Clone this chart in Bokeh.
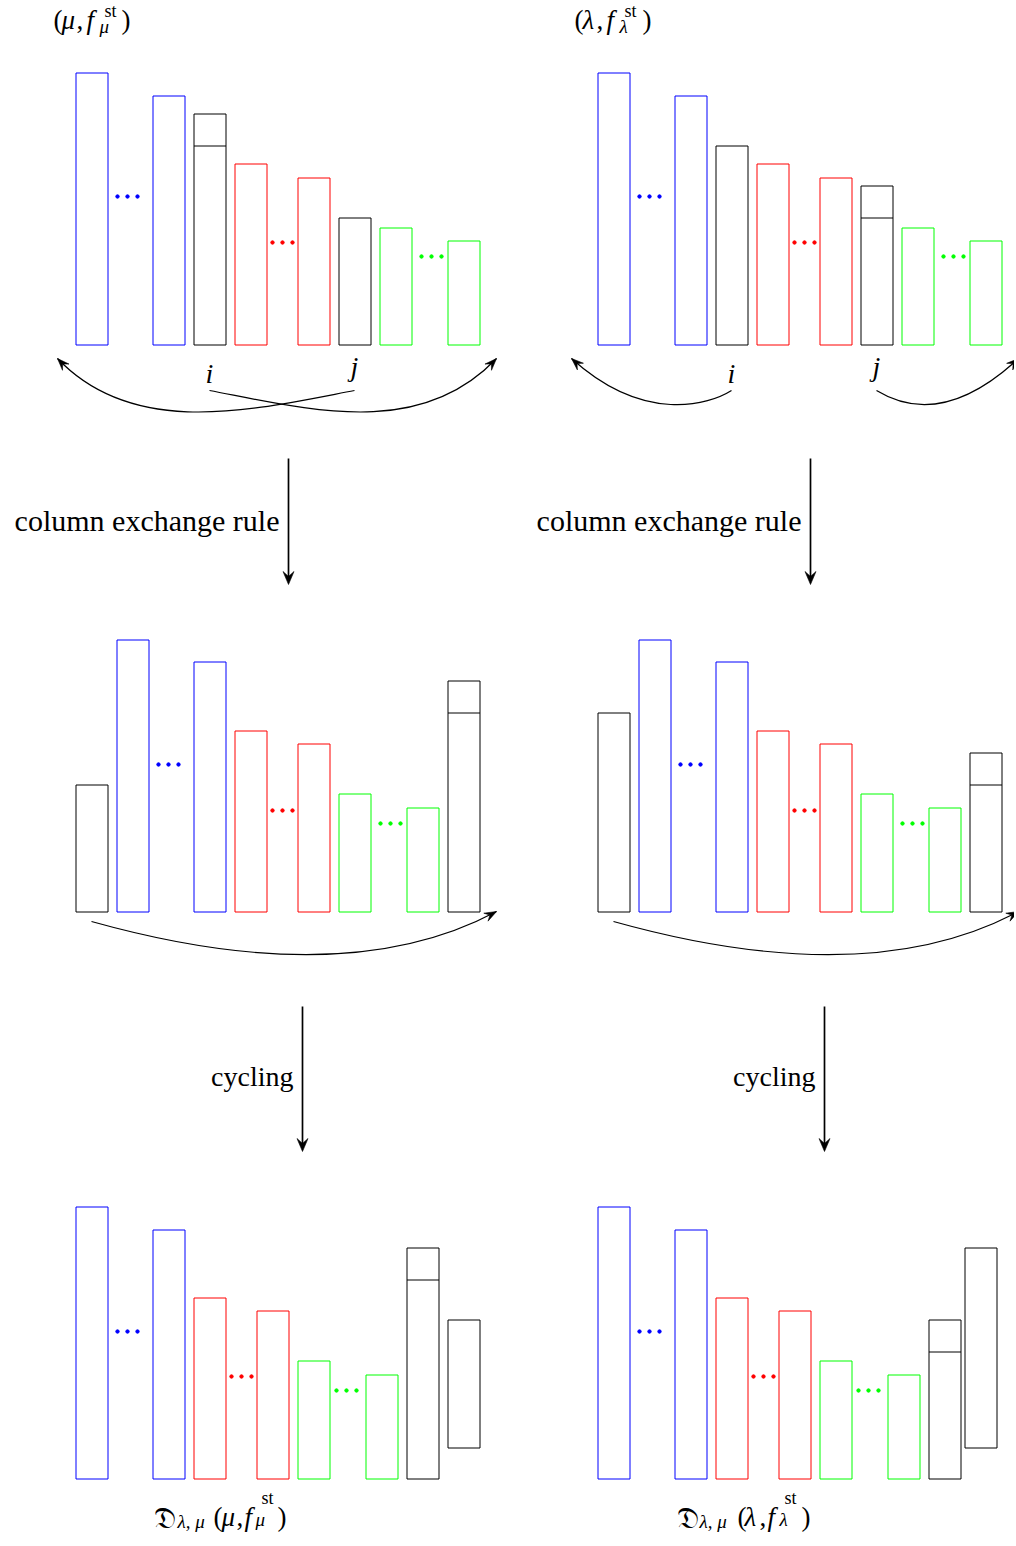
from bokeh.plotting import figure
from bokeh.models import Range1d, ColumnDataSource
from bokeh.core.properties import value
from bokeh.embed import file_html
from bokeh.resources import INLINE

COL = {"b": "#0000ff", "r": "#ff0000", "g": "#00ff00", "k": "#000000"}
BAR_W = 32

# ---- bars: left edge, top, bottom, colour (per panel) ----
p1_left = [76, 153, 194, 235, 298, 339, 380, 448]
p1_top = [73, 96, 114, 164, 178, 218, 228, 241]
p1_bot = [345] * 8
p1_col = list("bbkrrkgg")

p2_left = [598, 675, 716, 757, 820, 861, 902, 970]
p2_top = [73, 96, 146, 164, 178, 186, 228, 241]
p2_bot = [345] * 8
p2_col = list("bbkrrkgg")

p3_left = [76, 117, 194, 235, 298, 339, 407, 448]
p3_top = [785, 640, 662, 731, 744, 794, 808, 681]
p3_bot = [912] * 8
p3_col = list("kbbrrggk")

p4_left = [598, 639, 716, 757, 820, 861, 929, 970]
p4_top = [713, 640, 662, 731, 744, 794, 808, 753]
p4_bot = [912] * 8
p4_col = list("kbbrrggk")

p5_left = [76, 153, 194, 257, 298, 366, 407, 448]
p5_top = [1207, 1230, 1298, 1311, 1361, 1375, 1248, 1320]
p5_bot = [1479] * 7 + [1448]
p5_col = list("bbrrggkk")

p6_left = [598, 675, 716, 779, 820, 888, 929, 965]
p6_top = [1207, 1230, 1298, 1311, 1361, 1375, 1320, 1248]
p6_bot = [1479] * 7 + [1448]
p6_col = list("bbrrggkk")

# inner split lines of the black columns: left, y
split_left = [194, 861, 448, 970, 407, 929]
split_y = [146, 218, 713, 785, 1280, 1352]

# ---- ellipsis dots: centre x, y, colour ----
dots_x = [128, 283, 432, 650, 805, 954,
          169, 283, 391, 691, 805, 913,
          128, 242, 347, 650, 764, 869]
dots_y = [197, 243, 257, 197, 243, 257,
          765, 811, 824, 765, 811, 824,
          1332, 1377, 1391, 1332, 1377, 1391]
dots_c = list("brg" * 6)
DOT_GAP = 10

# ---- curved arrows (cubic Bezier): start, control 1, control 2, end ----
cv_x0 = [210, 355, 732, 877, 92, 614]
cv_y0 = [391, 391, 391, 391, 922, 922]
cv_cx0 = [310, 255, 710, 900, 210, 732]
cv_cy0 = [410, 410, 405, 405, 955, 955]
cv_cx1 = [420, 135, 645, 948, 370, 892]
cv_cy1 = [440, 440, 425, 425, 980, 980]
cv_x1 = [497, 58, 572, 1019, 497, 1019]
cv_y1 = [359, 359, 359, 359, 912, 912]

# ---- vertical arrows ----
va_x = [289, 811, 303, 825]
va_y0 = [459, 459, 1007, 1007]
va_y1 = [585, 585, 1152, 1152]
va_label = ["column exchange rule", "column exchange rule", "cycling", "cycling"]
va_label_y = [521, 521, 1077, 1077]
va_label_size = ["30px", "30px", "28px", "28px"]

# ---- arrow labels i, j ----
ij_text = ["i", "j", "i", "j"]
ij_x = [210, 355, 732, 877]
ij_y = [374, 367, 374, 367]

# ---- formula pieces: text, x (left), baseline y, size, style ----
m_text = ["(", "μ", ",", "f", "st", "μ", ")",
          "(", "λ", ",", "f", "st", "λ", ")",
          "𝔇", "λ, μ", "(", "μ", ",", "f", "st", "μ", ")",
          "𝔇", "λ, μ", "(", "λ", ",", "f", "st", "λ", ")"]
m_x = [54, 62, 77, 87, 105, 100, 122,
       575, 583, 597, 607, 625, 620, 643,
       154, 178, 214, 222, 237, 245, 262, 256, 278,
       677, 700, 738, 745, 760, 768, 785, 780, 802]
m_y = [20, 20, 20, 20, 11, 27, 20,
       20, 20, 20, 20, 11, 27, 20,
       1518, 1522, 1517, 1517, 1517, 1517, 1498, 1520, 1517,
       1518, 1522, 1517, 1517, 1517, 1517, 1498, 1520, 1517]
m_size = ["27px", "27px", "27px", "27px", "18px", "19px", "27px"] * 2 + \
         ["30px", "19px", "27px", "27px", "27px", "27px", "18px", "19px", "27px"] * 2
m_style = ["normal", "italic", "normal", "italic", "normal", "italic", "normal"] * 2 + \
          ["normal", "italic", "normal", "italic", "normal", "italic", "normal", "italic", "normal"] * 2

SERIF = "Liberation Serif"


def stealth(tx, ty, ux, uy, length, width):
    """stealth-style arrow head polygon from tip and unit direction"""
    nx, ny = -uy, ux
    bx, by = tx - length * ux, ty - length * uy
    return ([tx, bx + nx * width / 2, tx - 0.62 * length * ux, bx - nx * width / 2],
            [ty, by + ny * width / 2, ty - 0.62 * length * uy, by - ny * width / 2])


p = figure(width=1014, height=1544, output_backend="svg", toolbar_location=None,
           x_range=Range1d(1, 1015), y_range=Range1d(1545, 1), min_border=0)
p.axis.visible = False
p.grid.visible = False
p.outline_line_color = None
p.background_fill_color = "white"

lefts, tops, bots, cols = [], [], [], []
for L, T, B, C in [(p1_left, p1_top, p1_bot, p1_col), (p2_left, p2_top, p2_bot, p2_col),
                   (p3_left, p3_top, p3_bot, p3_col), (p4_left, p4_top, p4_bot, p4_col),
                   (p5_left, p5_top, p5_bot, p5_col), (p6_left, p6_top, p6_bot, p6_col)]:
    lefts += L; tops += T; bots += B; cols += [COL[c] for c in C]
bars = ColumnDataSource(dict(left=[v + 0.5 for v in lefts], right=[v + BAR_W + 0.5 for v in lefts],
                             top=[v + 0.5 for v in tops], bottom=[v + 0.5 for v in bots], color=cols))
p.quad(left="left", right="right", top="top", bottom="bottom", source=bars,
       fill_alpha=0, line_color="color", line_width=1)

p.segment(x0=[v + 0.5 for v in split_left], x1=[v + BAR_W + 0.5 for v in split_left],
          y0=[v + 0.5 for v in split_y], y1=[v + 0.5 for v in split_y],
          line_color="black", line_width=1)

dx, dy, dc = [], [], []
for x, y, c in zip(dots_x, dots_y, dots_c):
    for k in (-1, 0, 1):
        dx.append(x + k * DOT_GAP); dy.append(y); dc.append(COL[c])
p.scatter(dx, dy, size=3.4, color=dc, marker="circle")

# curved arrows
p.bezier(x0=cv_x0, y0=cv_y0, x1=cv_x1, y1=cv_y1, cx0=cv_cx0, cy0=cv_cy0,
         cx1=cv_cx1, cy1=cv_cy1, line_color="black", line_width=1.2)
hxs, hys = [], []
for xe, ye, xc, yc in zip(cv_x1, cv_y1, cv_cx1, cv_cy1):
    ddx, ddy = xe - xc, ye - yc
    n = (ddx ** 2 + ddy ** 2) ** 0.5
    hx, hy = stealth(xe, ye, ddx / n, ddy / n, 12, 9)
    hxs.append(hx); hys.append(hy)

# vertical arrows
p.segment(x0=va_x, x1=va_x, y0=va_y0, y1=[y - 5 for y in va_y1], line_color="black",
          line_width=1.7)
for x, y0, y1 in zip(va_x, va_y0, va_y1):
    hx, hy = stealth(x, y1, 0.0, 1.0, 13, 11)
    hxs.append(hx); hys.append(hy)
p.patches(hxs, hys, fill_color="black", line_color="black", line_width=0.6)

lsrc = ColumnDataSource(dict(x=[x - 9 for x in va_x], y=va_label_y, text=va_label, size=va_label_size))
p.text(x="x", y="y", text="text", source=lsrc, text_align="right",
       text_baseline="alphabetic", text_font=value(SERIF), text_font_size="size",
       text_color="black")

p.text(x=ij_x, y=ij_y, text=ij_text, text_align="center", text_baseline="alphabetic",
       text_font=value(SERIF), text_font_style="italic", text_font_size=value("28px"),
       text_color="black")

msrc = ColumnDataSource(dict(x=m_x, y=m_y, text=m_text, size=m_size, style=m_style))
p.text(x="x", y="y", text="text", source=msrc, text_align="left", text_baseline="alphabetic",
       text_font=value(SERIF), text_font_size="size", text_font_style="style",
       text_color="black")

open("out.html", "w").write(file_html(p, INLINE))
